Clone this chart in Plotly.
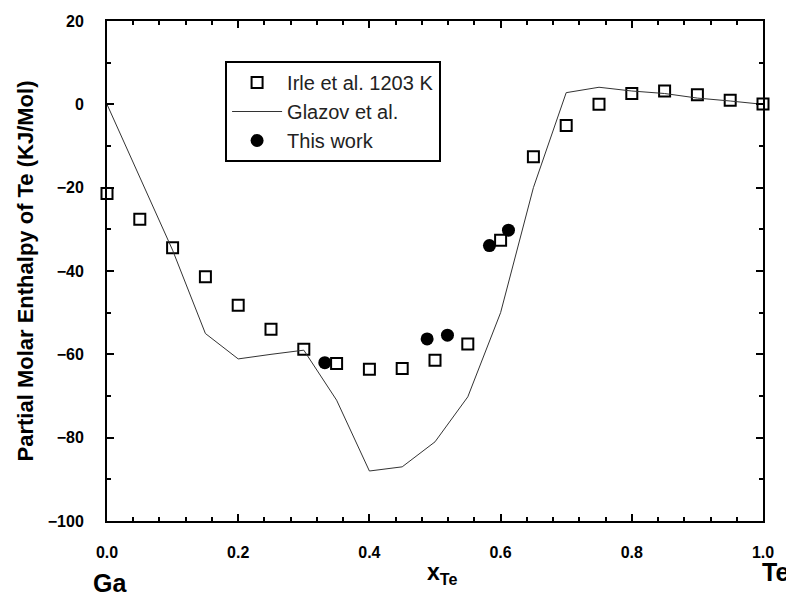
import plotly.graph_objects as go

# Irle et al. 1203 K (open squares)
irle_x = [0.0, 0.05, 0.10, 0.15, 0.20, 0.25, 0.30, 0.35, 0.40, 0.45, 0.50,
          0.55, 0.60, 0.65, 0.70, 0.75, 0.80, 0.85, 0.90, 0.95, 1.00]
irle_y = [-21.4, -27.6, -34.4, -41.4, -48.2, -54.0, -58.8, -62.2, -63.6, -63.4, -61.4,
          -57.5, -32.6, -12.6, -5.1, 0.0, 2.6, 3.2, 2.3, 1.0, 0.1]

# Glazov et al. (line)
glazov_x = [0.0, 0.05, 0.10, 0.15, 0.20, 0.25, 0.30, 0.35, 0.40, 0.45, 0.50,
            0.55, 0.60, 0.65, 0.70, 0.75, 0.80, 0.85, 0.90, 0.95, 1.00]
glazov_y = [0.0, -17.4, -35.0, -55.0, -61.1, -60.0, -59.0, -71.0, -88.0, -87.0, -81.0,
            -70.2, -50.0, -20.0, 2.8, 4.1, 3.2, 2.6, 1.5, 0.8, 0.0]

# This work (filled circles)
work_x = [0.332, 0.488, 0.519, 0.583, 0.612]
work_y = [-62.0, -56.3, -55.4, -33.9, -30.2]

y_title = "Partial Molar Enthalpy of Te (KJ/Mol)"
FONT = "Liberation Sans, Arial, sans-serif"

fig = go.Figure()
fig.add_trace(go.Scatter(
    x=irle_x, y=irle_y, mode="markers", name="Irle et al. 1203 K",
    marker=dict(symbol="square-open", size=11, color="black", line=dict(width=2, color="black")),
    cliponaxis=False))
fig.add_trace(go.Scatter(
    x=glazov_x, y=glazov_y, mode="lines", name="Glazov et al.",
    line=dict(color="#333333", width=1), cliponaxis=False))
fig.add_trace(go.Scatter(
    x=work_x, y=work_y, mode="markers", name="This work",
    marker=dict(symbol="circle", size=13, color="black"), cliponaxis=False))

axis_common = dict(
    showline=True, linecolor="black", linewidth=2, mirror="ticks",
    ticks="inside", tickcolor="black", tickwidth=2, ticklen=7,
    showgrid=False, zeroline=False,
    tickfont=dict(family=FONT, size=16, color="black", weight="bold"),
)

fig.update_xaxes(range=[0, 1], dtick=0.2, tick0=0, tickformat=".1f",
                 ticklabelstandoff=16,
                 minor=dict(dtick=0.04, ticks="inside", ticklen=4, tickwidth=1.5, tickcolor="black"),
                 **axis_common)
fig.update_yaxes(range=[-100, 20], dtick=20, tick0=0,
                 ticklabelstandoff=18,
                 minor=dict(dtick=10, ticks="inside", ticklen=4, tickwidth=1.5, tickcolor="black"),
                 title=dict(text=y_title, standoff=8,
                            font=dict(family=FONT, size=22, color="black", weight="bold")),
                 **axis_common)

H = 500.0
def py(p):
    return 1 - (p - 21) / H

fig.add_annotation(text="<b>Ga</b>", x=0.0, y=py(599), xref="x", yref="paper", showarrow=False,
                   xshift=3, font=dict(family=FONT, size=25, color="black"))
fig.add_annotation(text="<b>Te</b>", x=1.0, y=py(588), xref="x", yref="paper", showarrow=False,
                   xanchor="left", xshift=-3, font=dict(family=FONT, size=25, color="black"))
fig.add_annotation(text="<b>x<sub>Te</sub></b>", x=0.5, y=py(590), xref="x", yref="paper",
                   showarrow=False, xshift=7, font=dict(family=FONT, size=23, color="black"))

fig.update_layout(
    width=786, height=593,
    margin=dict(l=107, r=17, t=21, b=72),
    plot_bgcolor="white", paper_bgcolor="white",
    font=dict(family=FONT, color="black"),
    legend=dict(x=0.18, y=0.92, xanchor="left", yanchor="top",
                bgcolor="white", bordercolor="black", borderwidth=2,
                font=dict(family=FONT, size=20, color="#222222"),
                itemwidth=50, tracegroupgap=0),
)

fig.write_html("out.html")
